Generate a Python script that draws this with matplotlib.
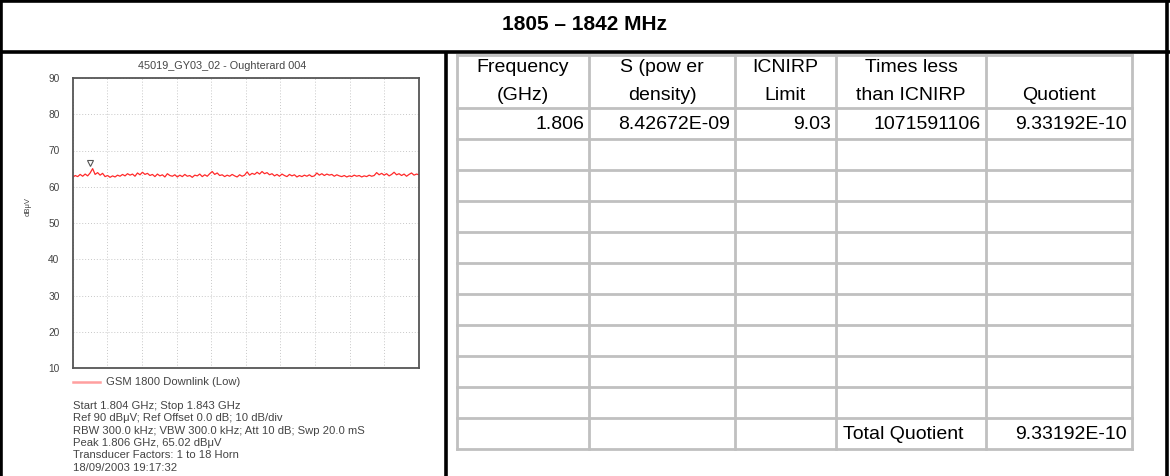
import numpy as np
import matplotlib
matplotlib.use('Agg')
import matplotlib.pyplot as plt
from matplotlib.lines import Line2D

W, H = 1170, 476

# ---- spectrum trace (dBuV) ----
f_start, f_stop = 1.804, 1.843
trace_dbuv = [
    62.6, 63.1, 62.8, 63.4, 62.9, 63.5, 63.0, 63.8, 65.0, 63.4,
    63.9, 63.2, 63.7, 62.8, 63.1, 62.6, 63.0, 62.7, 63.2, 62.9,
    63.4, 63.0, 63.6, 63.2, 63.5, 62.9, 63.8, 63.3, 64.0, 63.4,
    63.7, 63.1, 63.4, 62.8, 63.5, 63.0, 63.3, 62.7, 63.6, 63.1,
    62.9, 63.3, 62.7, 63.2, 62.8, 63.4, 62.9, 63.1, 62.6, 63.2,
    63.0, 63.5, 62.8, 63.3, 62.9, 63.6, 64.2, 63.4, 63.8, 63.1,
    63.3, 62.8, 63.2, 62.9, 63.4, 63.0, 62.7, 63.3, 62.9, 63.2,
    64.1, 63.2, 63.7, 63.4, 64.0, 63.5, 64.2, 63.6, 63.9, 63.3,
    63.6, 63.0, 63.4, 62.9, 63.5, 63.1, 62.8, 63.4, 63.0, 63.3,
    62.7, 63.1, 62.8, 63.2, 62.9, 63.3, 62.8, 63.0, 63.8, 63.2,
    63.6, 63.1, 63.5, 63.2, 63.4, 62.9, 63.3, 63.0, 62.8, 63.1,
    62.7, 63.0, 62.8, 63.2, 62.9, 63.1, 62.7, 63.0, 62.8, 63.2,
    62.9, 63.1, 63.9, 63.3, 63.7, 63.2, 63.6, 63.0, 63.4, 64.0,
    63.3, 63.6, 63.1, 63.5, 62.9, 63.4, 63.8, 63.2, 63.5, 63.3,
]
peak_freq = 1.806
peak_level = 65.02
y_ticks = [10, 20, 30, 40, 50, 60, 70, 80, 90]

chart_title = '45019_GY03_02 - Oughterard 004'
legend_label = 'GSM 1800 Downlink (Low)'
info_lines = [
    'Start 1.804 GHz; Stop 1.843 GHz',
    'Ref 90 dB\u03bcV; Ref Offset 0.0 dB; 10 dB/div',
    'RBW 300.0 kHz; VBW 300.0 kHz; Att 10 dB; Swp 20.0 mS',
    'Peak 1.806 GHz, 65.02 dB\u03bcV',
    'Transducer Factors: 1 to 18 Horn',
    '18/09/2003 19:17:32',
]

# ---- table ----
panel_title = '1805 \u2013 1842 MHz'
header_top = ['Frequency', 'S (pow er', 'ICNIRP', 'Times less', '']
header_bottom = ['(GHz)', 'density)', 'Limit', 'than ICNIRP', 'Quotient']
freq_ghz = ['1.806']
power_density = ['8.42672E-09']
icnirp_limit = ['9.03']
times_less = ['1071591106']
quotient = ['9.33192E-10']
total_label = 'Total Quotient'
total_quotient = '9.33192E-10'
n_rows = 11

plt.rcParams['font.family'] = ['Liberation Sans', 'DejaVu Sans']

fig = plt.figure(figsize=(W / 100, H / 100), dpi=100)


def fx(x):
    return x / W


def fy(y):
    return 1 - y / H


# background axes in pixel coordinates for frame + table
bg = fig.add_axes([0, 0, 1, 1])
bg.set_xlim(0, W)
bg.set_ylim(H, 0)
bg.axis('off')

frame_kw = dict(color='black', lw=2.6, solid_capstyle='butt')
bg.plot([1.3, 1.3], [0, H], **frame_kw)
bg.plot([1167, 1167], [0, H], **frame_kw)
bg.plot([0, W], [1.3, 1.3], **frame_kw)
bg.plot([0, W], [52, 52], **frame_kw)
bg.plot([445.5, 445.5], [52, H], **frame_kw)

bg.text(585, 25, panel_title, ha='center', va='center', fontsize=15,
        fontweight='bold')

col_x = [457, 589, 735, 836, 986, 1132]
row_y = [55, 108] + [108 + 31 * (i + 1) for i in range(n_rows)]
grid_kw = dict(color='#c0c0c0', lw=2, solid_capstyle='projecting')
for x in col_x:
    bg.plot([x, x], [row_y[0], row_y[-1]], **grid_kw)
for y in row_y:
    bg.plot([col_x[0], col_x[-1]], [y, y], **grid_kw)

tfs = 14
for i in range(5):
    cx = (col_x[i] + col_x[i + 1]) / 2
    if header_top[i]:
        bg.text(cx, 68, header_top[i], ha='center', va='center', fontsize=tfs)
    bg.text(cx, 96, header_bottom[i], ha='center', va='center', fontsize=tfs)

columns = [freq_ghz, power_density, icnirp_limit, times_less, quotient]
for r in range(len(freq_ghz)):
    yc = (row_y[1 + r] + row_y[2 + r]) / 2 + 1
    for i, col in enumerate(columns):
        bg.text(col_x[i + 1] - 5, yc, col[r], ha='right', va='center',
                fontsize=tfs)

yt = (row_y[-2] + row_y[-1]) / 2 + 1
bg.text(col_x[3] + 7, yt, total_label, ha='left', va='center', fontsize=tfs)
bg.text(col_x[5] - 5, yt, total_quotient, ha='right', va='center', fontsize=tfs)

# ---- spectrum plot ----
ax_l, ax_r, ax_t, ax_b = 72.7, 419, 78, 368
ax = fig.add_axes([fx(ax_l), fy(ax_b), (ax_r - ax_l) / W, (ax_b - ax_t) / H])
freqs = np.linspace(f_start, f_stop, len(trace_dbuv))
ax.plot(freqs, trace_dbuv, color='#ff2a2a', lw=0.9)
ax.plot([peak_freq], [peak_level + 1.5], marker='v', ms=4.5, mfc='white',
        mec='#555555', mew=0.8, ls='none')
ax.set_xlim(f_start, f_stop)
ax.set_ylim(10, 90)
ax.set_yticks(y_ticks)
ax.set_xticks(np.linspace(f_start, f_stop, 11))
ax.set_xticklabels([])
ax.tick_params(length=0, labelsize=7.3, labelcolor='#444444', pad=9.5)
ax.grid(True, color='#c8c8c8', lw=0.7, ls=(0, (1, 2)))
for side in ax.spines.values():
    side.set_color('#555555')
    side.set_linewidth(1.3)

fig.text(fx(222), fy(66), chart_title, ha='center', va='center', fontsize=7.8,
         color='#444444')
fig.text(fx(28), fy(207), 'dB\u03bcV', ha='center', va='center', fontsize=5.5,
         rotation=90, color='#444444')

fig.add_artist(Line2D([fx(72.7), fx(100)], [fy(381.7), fy(381.7)],
                      color='#ff9f9f', lw=1.8))
fig.text(fx(106), fy(381.7), legend_label, ha='left', va='center',
         fontsize=8.1, color='#444444')
for k, line in enumerate(info_lines):
    fig.text(fx(73), fy(405.7 + 12.4 * k), line, ha='left', va='center',
             fontsize=8.1, color='#444444')

fig.savefig('out.png', dpi=100)
